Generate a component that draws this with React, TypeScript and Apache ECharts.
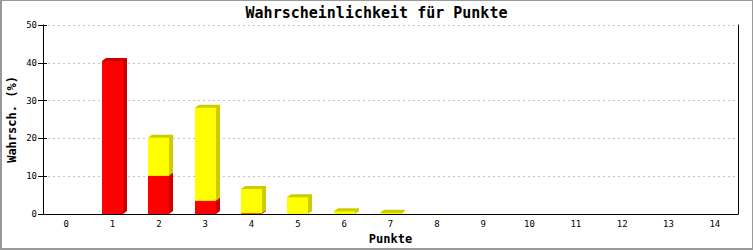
import React, { useEffect, useRef } from "react";
import * as echarts from "echarts";

const categories = ["0", "1", "2", "3", "4", "5", "6", "7", "8", "9", "10", "11", "12", "13", "14"];
const redValues = [0, 40.5, 10.1, 3.5, 0.2, 0, 0, 0, 0, 0, 0, 0, 0, 0, 0];
const yellowValues = [0, 0, 10.1, 24.6, 6.4, 4.4, 0.7, 0.3, 0, 0, 0, 0, 0, 0, 0];
const titleText = "Wahrscheinlichkeit für Punkte";
const yName = "Wahrsch. (%)";
const xName = "Punkte";

const FONT = "'DejaVu Sans Mono', monospace";

export default function App() {
  const ref = useRef<HTMLDivElement>(null);
  useEffect(() => {
    if (!ref.current) return;
    const chart = echarts.init(ref.current, null, { renderer: "svg" });
    const data = categories.map((_, i) => [i, redValues[i], yellowValues[i]]);
    const segments = [
      { front: "#FF0000", dark: "#CC0000" },
      { front: "#FFFF00", dark: "#CCCC00" },
    ];
    const renderItem = (params: any, api: any) => {
      const idx = api.value(0);
      const vals = [api.value(1), api.value(2)];
      const cw = api.size([1, 0])[0];
      const w = cw * 0.45;
      const d = 4;
      const h = 3;
      const center = api.coord([idx, 0])[0];
      const x0 = Math.round(center - w / 2);
      const x1 = Math.round(center + w / 2);
      const children: any[] = [];
      let base = 0;
      vals.forEach((v: number, s: number) => {
        if (!v) return;
        const yb = api.coord([idx, base])[1];
        const yt = api.coord([idx, base + v])[1];
        base += v;
        children.push({
          type: "polygon",
          shape: {
            points: [
              [x0, yt],
              [x0 + d, yt - h],
              [x1 + d, yt - h],
              [x1 + d, yb - h],
              [x1, yb],
              [x0, yb],
            ],
          },
          style: { fill: segments[s].dark },
        });
        children.push({
          type: "rect",
          shape: { x: x0, y: yt, width: x1 - x0, height: yb - yt },
          style: { fill: segments[s].front },
        });
      });
      return { type: "group", children };
    };
    chart.setOption({
      animation: false,
      backgroundColor: "#ffffff",
      title: {
        text: titleText,
        left: "center",
        top: 5,
        padding: 0,
        textStyle: { fontFamily: FONT, fontWeight: "bold", fontSize: 15, color: "#000" },
      },
      grid: { left: 43, right: 15, top: 25, bottom: 36, containLabel: false, outerBoundsMode: "none" },
      xAxis: {
        type: "category",
        data: categories,
        boundaryGap: true,
        name: xName,
        nameLocation: "middle",
        nameGap: 19,
        nameMoveOverlap: false,
        nameTextStyle: { fontFamily: FONT, fontWeight: "bold", fontSize: 12, color: "#000" },
        axisLine: { show: true, lineStyle: { color: "#000", width: 1 } },
        axisTick: { show: false },
        axisLabel: { fontFamily: FONT, fontSize: 9, color: "#000", margin: 5 },
        splitLine: { show: false },
      },
      yAxis: [
        {
          type: "value",
          min: 0,
          max: 50,
          interval: 10,
          position: "left",
          name: yName,
          nameLocation: "middle",
          nameRotate: 90,
          nameGap: 25,
          nameMoveOverlap: false,
          nameTextStyle: { fontFamily: FONT, fontWeight: "bold", fontSize: 12, color: "#000" },
          axisLine: { show: true, lineStyle: { color: "#000", width: 1 } },
          axisTick: { show: true, length: 5, inside: false, lineStyle: { color: "#000" } },
          axisLabel: { fontFamily: FONT, fontSize: 9, color: "#000", margin: 6 },
          splitLine: { show: true, lineStyle: { color: "#c4c4c4", type: [2, 3], width: 1 } },
        },
        {
          type: "value",
          min: 0,
          max: 50,
          interval: 10,
          position: "left",
          axisLine: { show: false },
          axisTick: { show: true, length: 4, inside: true, lineStyle: { color: "#000" } },
          axisLabel: { show: false },
          splitLine: { show: false },
        },
        {
          type: "value",
          min: 0,
          max: 50,
          interval: 10,
          position: "right",
          axisLine: { show: true, lineStyle: { color: "#000", width: 1 } },
          axisTick: { show: false },
          axisLabel: { show: false },
          splitLine: { show: false },
        },
      ],
      series: [
        {
          type: "custom",
          renderItem,
          data,
          encode: { x: 0, y: [1, 2] },
          xAxisIndex: 0,
          yAxisIndex: 0,
        },
      ],
    });
    return () => chart.dispose();
  }, []);
  return (
    <div style={{ position: "absolute", left: 0, top: 0, width: 753, height: 250 }}>
      <div ref={ref} style={{ width: 753, height: 250 }} />
      <div
        style={{
          position: "absolute",
          left: 0,
          top: 0,
          width: 753,
          height: 250,
          boxSizing: "border-box",
          borderTop: "1px solid #999",
          borderRight: "1px solid #999",
          borderLeft: "2px solid #999",
          borderBottom: "2px solid #999",
          pointerEvents: "none",
        }}
      />
    </div>
  );
}
